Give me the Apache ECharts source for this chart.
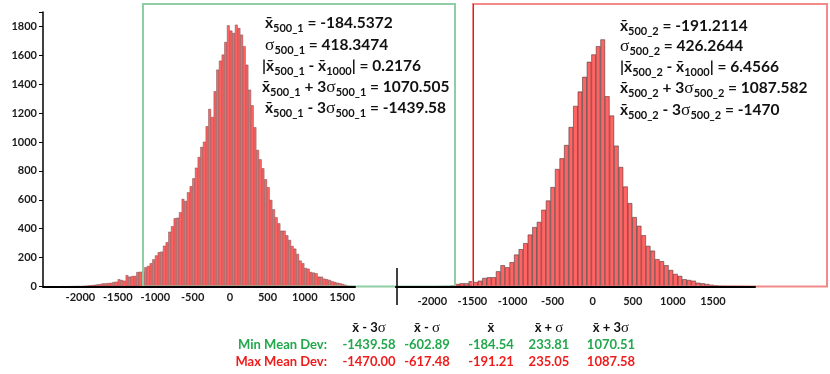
<!DOCTYPE html>
<html>
<head>
<meta charset="utf-8">
<script src="https://cdn.jsdelivr.net/npm/echarts/dist/echarts.min.js"></script>
<style>
html,body{margin:0;padding:0;background:#fff;}
#chart{width:830px;height:374px;}
</style>
</head>
<body>
<div id="chart"></div>
<script>
// 左图：500次抽样1 的直方图计数（每格一根柱）
var leftCounts = [
	0,0,0,0,0,0,0,
	1,0,1,1,2,2,3,
	3,5,6,8,10,12,15,
	17,21,22,24,25,31,33,
	50,45,40,78,68,72,73,
	100,102,104,133,142,161,188,
	215,237,241,282,306,379,417,
	472,476,514,606,592,652,694,
	749,822,896,966,1002,1109,1229,
	1173,1351,1501,1563,1605,1692,1808,
	1771,1755,1812,1789,1743,1663,1535,
	1362,1254,1102,945,880,818,742,
	687,599,534,479,437,386,386,
	354,322,280,262,225,179,161,
	128,123,100,96,91,68,68,
	54,50,45,36,31,26,22,
	17,12,5,4,3
];
// 右图：500次抽样2
var rightCounts = [
	0,0,0,0,0,0,0,0,0,
	1,2,3,6,
	17,22,22,36,31,40,59,
	64,64,105,147,133,168,221,
	258,300,359,411,447,531,595,
	688,813,887,979,1104,1250,1349,
	1451,1555,1606,1663,1710,1317,1183,
	975,827,692,577,480,420,355,
	281,248,189,175,147,114,87,
	73,50,45,40,26,22,17,
	12,8,5,4,3,3,2,2,1,1
];
var xTickLabels = [-2000,-1500,-1000,-500,0,500,1000,1500];
var yTickLabels = [0,200,400,600,800,1000,1200,1400,1600,1800];

var statsLeft = ['-184.5372','418.3474','0.2176','1070.505','-1439.58'];
var statsRight = ['-191.2114','426.2644','6.4566','1087.582','-1470'];

var tableCols = ['x\u0304 - 3σ','x\u0304 - σ','x\u0304','x\u0304 + σ','x\u0304 + 3σ'];
var minMeanDev = ['-1439.58','-602.89','-184.54','233.81','1070.51'];
var maxMeanDev = ['-1470.00','-617.48','-191.21','235.05','1087.58'];

var FONT = 'Lato, "DejaVu Sans", sans-serif';

var util = {
	bins : function(arr){
		var out = [];
		for(var i=0;i<arr.length;i++){ out.push('b'+i); }
		return out;
	},
	statLines : function(sub,v){
		return [
			'{x|x\u0304}{s|'+sub+'}{m| = '+v[0]+'}',
			'{g|σ}{s|'+sub+'}{m| = '+v[1]+'}',
			'{m||}{x|x\u0304}{s|'+sub+'}{m| - }{x|x\u0304}{s|1000}{m|| = '+v[2]+'}',
			'{x|x\u0304}{s|'+sub+'}{m| + 3}{g|σ}{s|'+sub+'}{m| = '+v[3]+'}',
			'{x|x\u0304}{s|'+sub+'}{m| - 3}{g|σ}{s|'+sub+'}{m| = '+v[4]+'}'
		];
	}
};

var statRich = {
	m : {fontFamily:FONT, fontWeight:'bold', fontSize:15.5, fill:'#111'},
	x : {fontFamily:FONT, fontWeight:'bold', fontSize:15.5, fill:'#111'},
	s : {fontFamily:FONT, fontWeight:'bold', fontSize:11, fill:'#111', padding:[10,0,0,0]},
	g : {fontFamily:'"Liberation Serif", serif', fontSize:17.5, fill:'#111'}
};

var graphics = [];
// 绿色框、红色框
graphics.push({type:'rect', z:3, shape:{x:143, y:4, width:312, height:282.5},
	style:{fill:'none', stroke:'#8fcea5', lineWidth:2}});
graphics.push({type:'rect', z:3, shape:{x:473, y:4, width:354, height:282.5},
	style:{fill:'none', stroke:'#f28a8a', lineWidth:2}});
graphics.push({type:'line', z:3, shape:{x1:473.5, y1:4, x2:473.5, y2:286.5},
	style:{stroke:'#e01b1b', lineWidth:1}});
// 右图残留的纵轴短线
graphics.push({type:'line', z:5, shape:{x1:397, y1:268, x2:397, y2:305},
	style:{stroke:'#000', lineWidth:1.5}});

// 统计文字
var leftLines = util.statLines('500_1', statsLeft);
var rightLines = util.statLines('500_2', statsRight);
var leftPos = [[265,23],[265,45],[262,66],[262,87],[265,108]];
var rightPos = [[620,26],[620,46],[620,67],[620,88],[620,110]];
for(var i=0;i<5;i++){
	graphics.push({type:'text', z:10, x:leftPos[i][0], y:leftPos[i][1],
		style:{text:leftLines[i], rich:statRich, verticalAlign:'middle'}});
	graphics.push({type:'text', z:10, x:rightPos[i][0], y:rightPos[i][1],
		style:{text:rightLines[i], rich:statRich, verticalAlign:'middle'}});
}

// 底部表格
var colX = [369,427,491,549,611];
var tRich = {
	h : {fontFamily:FONT, fontWeight:'bold', fontSize:13, fill:'#111'},
	hg : {fontFamily:'"Liberation Serif", serif', fontSize:15, fill:'#111'}
};
for(var c=0;c<tableCols.length;c++){
	graphics.push({type:'text', z:10, x:colX[c], y:328,
		style:{text:'{h|'+tableCols[c].replace(/σ/g,'}{hg|σ}{h|')+'}', rich:tRich, align:'center', verticalAlign:'middle'}});
	graphics.push({type:'text', z:10, x:colX[c], y:345,
		style:{text:minMeanDev[c], font:'bold 13px '+FONT, fill:'#22a84c', align:'center', verticalAlign:'middle'}});
	graphics.push({type:'text', z:10, x:colX[c], y:362,
		style:{text:maxMeanDev[c], font:'bold 13px '+FONT, fill:'#f01c1c', align:'center', verticalAlign:'middle'}});
}
graphics.push({type:'text', z:10, x:327, y:345,
	style:{text:'Min Mean Dev:', font:'bold 13px '+FONT, fill:'#22a84c', align:'right', verticalAlign:'middle'}});
graphics.push({type:'text', z:10, x:327, y:362,
	style:{text:'Max Mean Dev:', font:'bold 13px '+FONT, fill:'#f01c1c', align:'right', verticalAlign:'middle'}});

var axisLabelStyle = {fontFamily:FONT, fontWeight:'bold', fontSize:11, color:'#1a1a1a'};
function xFmt(v){ return xTickLabels.indexOf(v) >= 0 ? String(v) : ''; }

var myChart = echarts.init(document.getElementById('chart'));
var option = {
	animation : false,
	backgroundColor : '#fff',
	grid : [
		{left:43, top:12, width:312, height:274.5, outerBoundsMode:'none', containLabel:false},
		{left:395.9, top:12, width:359.1, height:274.5, outerBoundsMode:'none', containLabel:false}
	],
	xAxis : [
		{type:'category', gridIndex:0, data:util.bins(leftCounts), show:false},
		{type:'value', gridIndex:0, position:'bottom', min:-2500, max:1670, interval:500, z:4,
			axisLine:{show:true, onZero:false, lineStyle:{color:'#000', width:2}},
			axisTick:{show:false}, splitLine:{show:false},
			axisLabel:Object.assign({margin:5, formatter:xFmt}, axisLabelStyle)},
		{type:'category', gridIndex:1, data:util.bins(rightCounts), show:false},
		{type:'value', gridIndex:1, position:'bottom', min:-2454, max:2024, minInterval:500, maxInterval:500, z:4,
			axisLine:{show:true, onZero:false, lineStyle:{color:'#000', width:2}},
			axisTick:{show:false}, splitLine:{show:false},
			axisLabel:Object.assign({margin:9, formatter:xFmt}, axisLabelStyle)}
	],
	yAxis : [
		{type:'value', gridIndex:0, min:0, max:1900, interval:200, z:4,
			axisLine:{show:true, onZero:false, lineStyle:{color:'#000', width:1.5}},
			axisTick:{show:true, length:4, lineStyle:{color:'#000'}},
			splitLine:{show:false},
			axisLabel:Object.assign({margin:6, formatter:function(v){ return yTickLabels.indexOf(v) >= 0 ? String(v) : ''; }}, axisLabelStyle)},
		{type:'value', gridIndex:1, min:0, max:1900, show:false, splitLine:{show:false}}
	],
	series : [
		{type:'bar', xAxisIndex:0, yAxisIndex:0, data:leftCounts, barCategoryGap:'0%',
			itemStyle:{color:'#ff6666', borderColor:'#5a3434', borderWidth:0.4}},
		{type:'bar', xAxisIndex:2, yAxisIndex:1, data:rightCounts, barCategoryGap:'0%',
			itemStyle:{color:'#ff6464', borderColor:'#302424', borderWidth:0.5}}
	],
	graphic : graphics
};
myChart.setOption(option);
</script>
</body>
</html>
